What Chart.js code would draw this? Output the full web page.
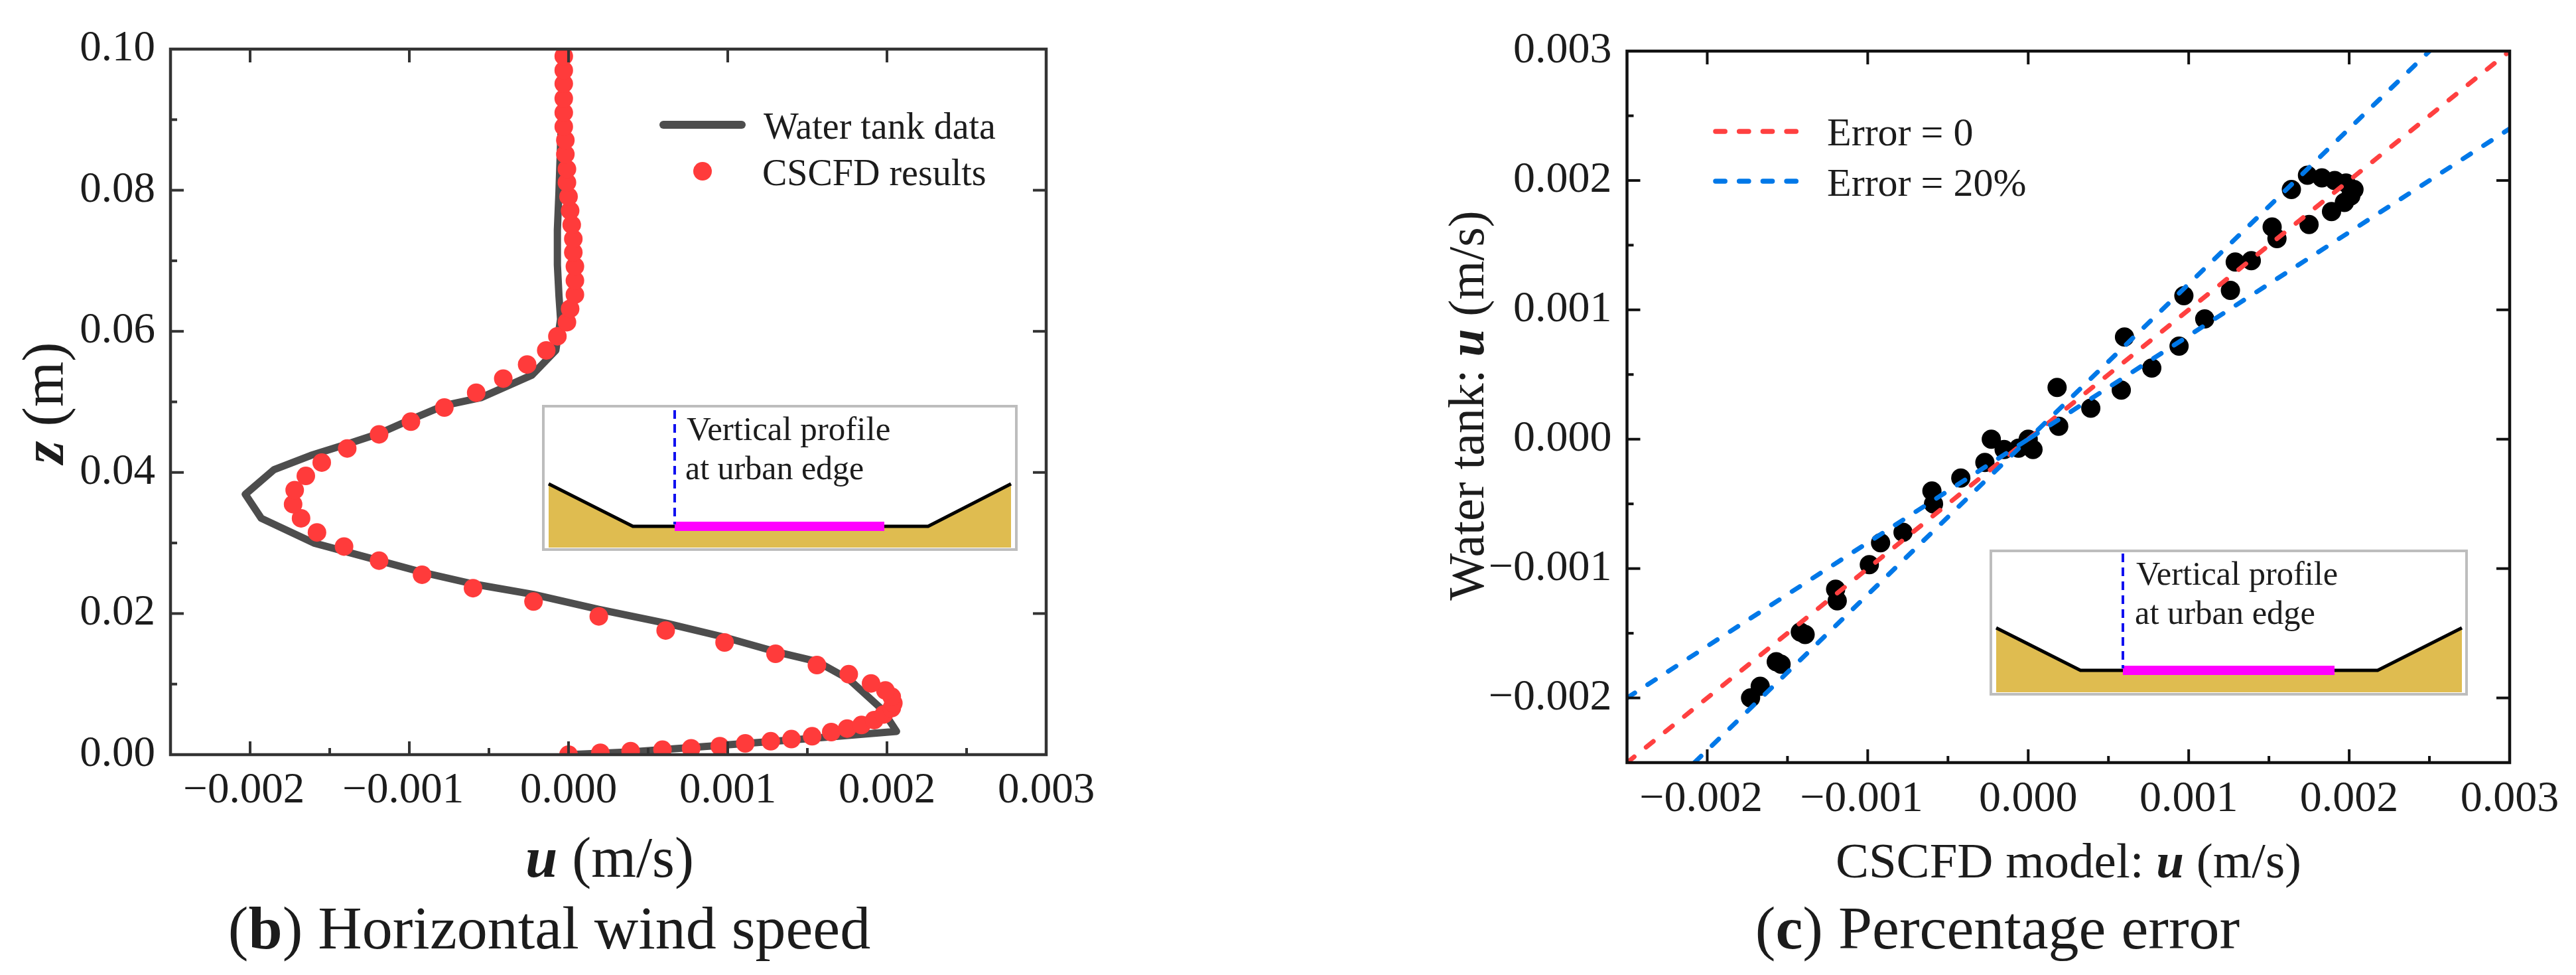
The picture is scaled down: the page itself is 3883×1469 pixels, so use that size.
<!DOCTYPE html>
<html><head><meta charset="utf-8">
<script src="https://cdn.jsdelivr.net/npm/chart.js@4"></script>
<style>
html,body{margin:0;padding:0;background:#fff;width:3883px;height:1469px;overflow:hidden}
canvas{position:absolute;top:0}
#c1{left:0}#c2{left:2100px}
svg{position:absolute;left:0;top:0}
text{font-family:"Liberation Serif",serif;fill:#1c1c1c}
.b{font-weight:bold}.bi{font-weight:bold;font-style:italic}
</style></head><body>
<canvas id="c1" width="1700" height="1469"></canvas>
<canvas id="c2" width="1783" height="1469"></canvas>
<svg width="3883" height="1469" viewBox="0 0 3883 1469">
  <line x1="1000" y1="188" x2="1118" y2="188" stroke="#4d4d4d" stroke-width="12" stroke-linecap="round"/>
  <text x="1151" y="190" font-size="56" dominant-baseline="central">Water tank data</text>
  <circle cx="1059" cy="258" r="14" fill="#ff3b3b"/>
  <text x="1149" y="260" font-size="56" dominant-baseline="central">CSCFD results</text>
  <text x="919" y="1291" font-size="87" text-anchor="middle" dominant-baseline="central"><tspan class="bi">u</tspan> (m/s)</text>
  <text transform="translate(65,607) rotate(-90)" font-size="88" text-anchor="middle" dominant-baseline="central"><tspan class="bi">z</tspan> (m)</text>
  <text x="828" y="1429" font-size="92" text-anchor="middle">(<tspan class="b">b</tspan>) Horizontal wind speed</text>
  <rect x="819" y="612" width="713" height="216" fill="#fff" stroke="#bdbdbd" stroke-width="4"/>
  <polygon points="827,729 954,793 1399,793 1524,729 1524,825 827,825" fill="#dfbc50"/>
  <polyline points="827,729 954,793 1399,793 1524,729" fill="none" stroke="#000" stroke-width="5"/>
  <line x1="1017" y1="793" x2="1333" y2="793" stroke="#ff00ff" stroke-width="14"/>
  <line x1="1017" y1="618" x2="1017" y2="790" stroke="#1010f0" stroke-width="4" stroke-dasharray="13,8"/>
  <text x="1035" y="646" font-size="51" dominant-baseline="central">Vertical profile</text>
  <text x="1033" y="705" font-size="50" dominant-baseline="central">at urban edge</text>
  <line x1="2586" y1="198" x2="2708" y2="198" stroke="#ff4040" stroke-width="7.5" stroke-linecap="round" stroke-dasharray="14.2,21.5"/>
  <line x1="2586" y1="273" x2="2708" y2="273" stroke="#0078e8" stroke-width="7.5" stroke-linecap="round" stroke-dasharray="14.2,21.5"/>
  <text x="2754" y="199" font-size="60" dominant-baseline="central">Error = 0</text>
  <text x="2754" y="275" font-size="60" dominant-baseline="central">Error = 20%</text>
  <text x="3118" y="1296" font-size="75" text-anchor="middle" dominant-baseline="central">CSCFD model: <tspan class="bi">u</tspan> (m/s)</text>
  <text transform="translate(2210,611) rotate(-90)" font-size="75.5" text-anchor="middle" dominant-baseline="central">Water tank: <tspan class="bi">u</tspan> (m/s)</text>
  <text x="3011" y="1429" font-size="92" text-anchor="middle">(<tspan class="b">c</tspan>) Percentage error</text>
  <rect x="3001" y="830" width="717" height="216" fill="#fff" stroke="#bdbdbd" stroke-width="4"/>
  <polygon points="3009,946 3136,1010 3584,1010 3711,946 3711,1043 3009,1043" fill="#dfbc50"/>
  <polyline points="3009,946 3136,1010 3584,1010 3711,946" fill="none" stroke="#000" stroke-width="5"/>
  <line x1="3200" y1="1010" x2="3519" y2="1010" stroke="#ff00ff" stroke-width="14"/>
  <line x1="3200" y1="834" x2="3200" y2="1007" stroke="#1010f0" stroke-width="4" stroke-dasharray="13,8"/>
  <text x="3220" y="864" font-size="50.5" dominant-baseline="central">Vertical profile</text>
  <text x="3218" y="923" font-size="50.5" dominant-baseline="central">at urban edge</text>
</svg>
<script>
const tankU = [0,0.0004,0.00094,0.00153,0.00206,0.00197,0.00176,0.00156,0.0013,0.00097,0.00062,0.00019,-0.00022,-0.0006,-0.00091,-0.00119,-0.0016,-0.00193,-0.00203,-0.00185,-0.00162,-0.00138,-0.00119,-0.00099,-0.00078,-0.00055,-0.00023,-0.00008,-0.00005,-0.00006,-0.00007,-0.00007,-0.00006,-0.00003];
const tankZ = [0,0.0004,0.0013,0.0023,0.0033,0.0064,0.0107,0.0132,0.0146,0.0167,0.0186,0.0206,0.0227,0.0242,0.0258,0.0275,0.03,0.0335,0.0369,0.0404,0.0424,0.0441,0.0455,0.0475,0.0495,0.0506,0.0538,0.0573,0.0617,0.065,0.0694,0.0744,0.0798,0.1];
const cscfdU = [0,0.0002,0.00039,0.00059,0.00077,0.00095,0.00111,0.00127,0.0014,0.00153,0.00165,0.00175,0.00184,0.00192,0.00198,0.00203,0.00204,0.00203,0.00199,0.0019,0.00176,0.00156,0.0013,0.00098,0.00061,0.00019,-0.00022,-0.0006,-0.00092,-0.00119,-0.00141,-0.00158,-0.00168,-0.00173,-0.00172,-0.00165,-0.00155,-0.00139,-0.00119,-0.00099,-0.00078,-0.00058,-0.00041,-0.00026,-0.00014,-0.00007,-0.00001,0.00001,0.00004,0.00004,0.00004,0.00003,0.00003,0.00002,0.00001,0,-0.00001,-0.00001,-0.00002,-0.00002,-0.00003,-0.00003,-0.00003,-0.00003,-0.00003,-0.00003];
const cscfdZ = [0,0.00026,0.0005,0.0007,0.0009,0.0012,0.0016,0.0019,0.0022,0.0026,0.0032,0.0037,0.0042,0.0049,0.0057,0.0066,0.0073,0.0082,0.0091,0.0101,0.0114,0.0127,0.0143,0.0159,0.0176,0.0196,0.0217,0.0236,0.0255,0.0275,0.0295,0.0315,0.0335,0.0355,0.0375,0.0395,0.0414,0.0434,0.0454,0.0472,0.0492,0.0513,0.0533,0.0553,0.0573,0.0593,0.0613,0.0632,0.0652,0.0672,0.0692,0.0712,0.0731,0.0751,0.0771,0.0791,0.0811,0.083,0.0851,0.0871,0.089,0.091,0.093,0.0951,0.097,0.099];
const uTicks = [-0.002,-0.001,0,0.001,0.002,0.003];
const uMinor = [-0.0015,-0.0005,0.0005,0.0015,0.0025];
const zTicks = [0,0.02,0.04,0.06,0.08,0.1];
const zMinor = [0.01,0.03,0.05,0.07,0.09];
const modelU = [-0.00173,-0.00167,-0.00157,-0.00154,-0.00142,-0.00139,-0.0012,-0.00119,-0.00099,-0.00092,-0.00078,-0.0006,-0.00059,-0.00042,-0.00027,-0.00023,-0.00015,-0.00006,0,0.00003,0.00018,0.00019,0.00039,0.00058,0.0006,0.00077,0.00094,0.00097,0.0011,0.00126,0.00129,0.00139,0.00152,0.00155,0.00164,0.00175,0.00174,0.00183,0.00189,0.00191,0.00197,0.00198,0.00201,0.00203];
const waterU = [-0.002,-0.00191,-0.00172,-0.00174,-0.00149,-0.00151,-0.00116,-0.00125,-0.00097,-0.0008,-0.00072,-0.0004,-0.0005,-0.0003,-0.00018,0,-0.00008,-0.00007,0,-0.00008,0.0004,0.0001,0.00024,0.00038,0.00079,0.00055,0.00072,0.00111,0.00093,0.00115,0.00137,0.00138,0.00164,0.00155,0.00193,0.00166,0.00204,0.00202,0.00176,0.002,0.00183,0.00198,0.00188,0.00193];
const zeroX = [-0.0025,0.003];
const zeroY = [-0.0025,0.003];
const upperX = [-0.0025,0,0.0025];
const upperY = [-0.002,0,0.003];
const lowerX = [-0.00208,0,0.003];
const lowerY = [-0.0025,0,0.0024];
const tankTicks = [-0.002,-0.001,0,0.001,0.002,0.003];
const tankMinor = [-0.0015,-0.0005,0.0005,0.0015,0.0025];
const modelTicks = [-0.002,-0.001,0,0.001,0.002,0.003];
const modelMinor = [-0.0015,-0.0005,0.0005,0.0015,0.0025];

const pts = (xs,ys)=>xs.map((x,i)=>({x,y:ys[i]}));
const fmt = (v,d)=>(v<0?'\u2212':'')+Math.abs(v).toFixed(d);
const fmtX = v=>fmt(v,3)+(v<0?'\u2009\u200A':'');
const frame = {
  id:'frame',
  afterDatasetsDraw(chart,args,o){
    const {ctx,chartArea:a,scales:{x,y}}=chart;
    ctx.save();ctx.strokeStyle=o.color;ctx.lineWidth=4.5;ctx.lineCap='butt';
    ctx.strokeRect(a.left,a.top,a.right-a.left,a.bottom-a.top);
    ctx.lineWidth=4;
    const seg=(x1,y1,x2,y2)=>{ctx.beginPath();ctx.moveTo(x1,y1);ctx.lineTo(x2,y2);ctx.stroke();};
    o.xMajor.forEach(v=>{const p=x.getPixelForValue(v);seg(p,a.bottom,p,a.bottom-20);seg(p,a.top,p,a.top+20);});
    o.xMinor.forEach(v=>{const p=x.getPixelForValue(v);seg(p,a.bottom,p,a.bottom-10);});
    o.yMajor.forEach(v=>{const p=y.getPixelForValue(v);seg(a.left,p,a.left+20,p);seg(a.right,p,a.right-20,p);});
    o.yMinor.forEach(v=>{const p=y.getPixelForValue(v);seg(a.left,p,a.left+10,p);});
    ctx.restore();
  }
};
function axes(xMin,xMax,xT,yMin,yMax,yT,yDec,yW,xH,xPad,yPad,size){
  const tf={family:'"Liberation Serif"',size};
  return {
    x:{type:'linear',min:xMin,max:xMax,grid:{display:false},border:{display:false},
       afterBuildTicks:s=>{s.ticks=xT.map(v=>({value:v}));},
       afterFit:s=>{s.height=xH;},
       ticks:{font:tf,color:'#1c1c1c',padding:xPad,maxRotation:0,autoSkip:false,callback:fmtX}},
    y:{type:'linear',min:yMin,max:yMax,grid:{display:false},border:{display:false},
       afterBuildTicks:s=>{s.ticks=yT.map(v=>({value:v}));},
       afterFit:s=>{s.width=yW;},
       ticks:{font:tf,color:'#1c1c1c',padding:yPad,autoSkip:false,callback:v=>fmt(v,yDec)}}
  };
}
new Chart(document.getElementById('c1'),{
  type:'scatter',
  data:{datasets:[
    {label:'CSCFD results',data:pts(cscfdU,cscfdZ),order:1,pointRadius:14,pointBackgroundColor:'#ff3b3b',pointBorderWidth:0,showLine:false},
    {label:'Water tank data',data:pts(tankU,tankZ),order:2,showLine:true,borderColor:'#4d4d4d',borderWidth:11,borderJoinStyle:'round',pointRadius:0,tension:0}
  ]},
  plugins:[frame],
  options:{responsive:false,animation:false,
    layout:{padding:{top:74,right:123,left:0,bottom:0}},
    scales:axes(-0.0025,0.003,uTicks,0,0.1,zTicks,2,257,332,8,15,65),
    plugins:{legend:{display:false},tooltip:{enabled:false},
      frame:{color:'#333',xMajor:uTicks,xMinor:uMinor,yMajor:zTicks,yMinor:zMinor}}}
});
const dash={showLine:true,borderWidth:7,borderCapStyle:'round',borderDash:[14,23],pointRadius:0};
new Chart(document.getElementById('c2'),{
  type:'scatter',
  data:{datasets:[
    {label:'Error = 20% upper',data:pts(upperX,upperY),order:1,borderColor:'#0078e8',...dash},
    {label:'Error = 20% lower',data:pts(lowerX,lowerY),order:1,borderColor:'#0078e8',...dash},
    {label:'Error = 0',data:pts(zeroX,zeroY),order:2,borderColor:'#ff4040',...dash},
    {label:'Water tank vs CSCFD',data:pts(modelU,waterU),order:3,pointRadius:14.5,pointBackgroundColor:'#000',pointBorderWidth:0,showLine:false}
  ]},
  plugins:[frame],
  options:{responsive:false,animation:false,
    layout:{padding:{top:77,right:100,left:0,bottom:0}},
    scales:axes(-0.0025,0.003,modelTicks,-0.0025,0.003,tankTicks,3,352.5,320,8,15,66),
    plugins:{legend:{display:false},tooltip:{enabled:false},
      frame:{color:'#111',xMajor:modelTicks,xMinor:modelMinor,yMajor:tankTicks,yMinor:tankMinor}}}
});
</script>
</body></html>
